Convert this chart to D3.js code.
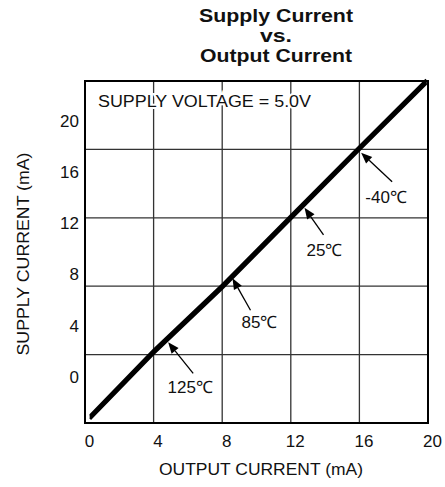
<!DOCTYPE html>
<html>
<head>
<meta charset="utf-8">
<script src="https://cdn.jsdelivr.net/npm/d3@7"></script>
<style>
  body { margin: 0; background: #fff; }
  text { font-family: "Liberation Sans", Arial, sans-serif; fill: #111; }
</style>
</head>
<body>
<div id="chart"></div>
<script>
// output current (mA) sampled along the curves
const outputCurrent = [0.3, 4, 8, 12, 16, 19.9];
// supply current (mA) for each temperature
const supply125 = [-3.3, 1.8, 6.9, 12.3, 17.7, 22.9];
const supply85 = [-3.2, 1.9, 7.0, 12.4, 17.8, 23.0];
const supply25 = [-3.1, 2.0, 7.1, 12.5, 17.9, 23.1];
const supplyMinus40 = [-3.0, 2.1, 7.2, 12.6, 18.0, 23.2];
const temps = ['125℃', '85℃', '25℃', '-40℃'];

const xTicks = [0, 4, 8, 12, 16, 20];
const yTicks = [0, 4, 8, 12, 16, 20];

// where each temperature's arrow touches the curve (output, supply)
const arrowX = [4.85, 8.6, 12.8, 16.1];
const arrowY = [2.7, 7.7, 13.2, 17.5];

const width = 445;
const height = 487;
const margin = {top: 81, right: 17, bottom: 64, left: 85};

const svg = d3.select('#chart')
  .append('svg')
  .attr('width', width)
  .attr('height', height);

const x = d3.scaleLinear()
  .domain([0, 20])
  .range([margin.left, width - margin.right]);

const y = d3.scaleLinear()
  .domain([-3.6, 23.1])
  .range([height - margin.bottom, margin.top]);

// the grid splits the frame into 5 x 5 even cells
const gridX = d3.scaleLinear().domain([0, 5]).range([margin.left, width - margin.right]);
const gridY = d3.scaleLinear().domain([0, 5]).range([height - margin.bottom, margin.top]);

svg.append('g')
  .attr('stroke', '#333')
  .attr('stroke-width', 1.3)
  .call(g => g.selectAll('.vx')
    .data(d3.range(1, 5))
    .join('line')
      .attr('x1', d => gridX(d)).attr('x2', d => gridX(d))
      .attr('y1', margin.top).attr('y2', height - margin.bottom))
  .call(g => g.selectAll('.hy')
    .data(d3.range(1, 5))
    .join('line')
      .attr('y1', d => gridY(d)).attr('y2', d => gridY(d))
      .attr('x1', margin.left).attr('x2', width - margin.right));

// voltage note, with a white halo over the grid
svg.append('text')
  .attr('x', 98)
  .attr('y', 107)
  .attr('font-size', 16)
  .attr('textLength', 213)
  .attr('lengthAdjust', 'spacingAndGlyphs')
  .attr('stroke', '#fff')
  .attr('stroke-width', 4)
  .attr('paint-order', 'stroke')
  .text('SUPPLY VOLTAGE = 5.0V');

// curves
const series = [supply125, supply85, supply25, supplyMinus40];
const line = d3.line()
  .x((d, i) => x(outputCurrent[i]))
  .y(d => y(d));

svg.append('g')
  .selectAll('path')
  .data(series)
  .join('path')
    .attr('fill', 'none')
    .attr('stroke', '#000')
    .attr('stroke-width', 2.5)
    .attr('d', line);

// frame
svg.append('rect')
  .attr('x', margin.left)
  .attr('y', margin.top)
  .attr('width', width - margin.left - margin.right)
  .attr('height', height - margin.top - margin.bottom)
  .attr('fill', 'none')
  .attr('stroke', '#000')
  .attr('stroke-width', 2);

// arrows + temperature labels
const tails = [[25, 31], [18, 32], [19, 27], [31, 29]];
const labelOff = [[-3, 20], [9, 18], [1, 21], [-6, 21]];

const ann = svg.append('g');
temps.forEach((t, i) => {
  const tx = x(arrowX[i]), ty = y(arrowY[i]);
  const bx = tx + tails[i][0], by = ty + tails[i][1];
  const ang = Math.atan2(ty - by, tx - bx);
  const len = 11, half = 4.5;
  const hx = tx - len * Math.cos(ang), hy = ty - len * Math.sin(ang);
  ann.append('line')
    .attr('x1', bx).attr('y1', by)
    .attr('x2', hx).attr('y2', hy)
    .attr('stroke', '#000')
    .attr('stroke-width', 1.3);
  ann.append('path')
    .attr('fill', '#000')
    .attr('d', `M${tx},${ty}L${hx + half * Math.sin(ang)},${hy - half * Math.cos(ang)}L${hx - half * Math.sin(ang)},${hy + half * Math.cos(ang)}Z`);
  ann.append('text')
    .attr('x', bx + labelOff[i][0])
    .attr('y', by + labelOff[i][1])
    .attr('text-anchor', 'middle')
    .attr('font-size', 17)
    .text(t);
});

// x axis labels (no tick marks, just numbers)
const xAxis = d3.axisBottom(x).tickValues(xTicks).tickSize(0).tickPadding(12);
svg.append('g')
  .attr('transform', `translate(4, ${height - margin.bottom})`)
  .call(xAxis)
  .call(g => g.select('.domain').remove())
  .call(g => g.selectAll('text').attr('font-size', 17).attr('font-family', null));

// y axis labels
const yAxis = d3.axisLeft(y).tickValues(yTicks).tickSize(0).tickPadding(6);
svg.append('g')
  .attr('transform', `translate(${margin.left}, 0)`)
  .call(yAxis)
  .call(g => g.select('.domain').remove())
  .call(g => g.selectAll('text').attr('font-size', 17).attr('font-family', null));

// axis titles
svg.append('text')
  .attr('x', 261)
  .attr('y', 475)
  .attr('text-anchor', 'middle')
  .attr('font-size', 16)
  .attr('textLength', 204)
  .attr('lengthAdjust', 'spacingAndGlyphs')
  .text('OUTPUT CURRENT (mA)');

svg.append('text')
  .attr('transform', 'translate(29, 254) rotate(-90)')
  .attr('text-anchor', 'middle')
  .attr('font-size', 16)
  .attr('textLength', 203)
  .attr('lengthAdjust', 'spacingAndGlyphs')
  .text('SUPPLY CURRENT (mA)');

// title
const title = ['Supply Current', 'vs.', 'Output Current'];
const titleW = [154, 32, 152];
svg.append('g')
  .selectAll('text')
  .data(title)
  .join('text')
    .attr('x', 276)
    .attr('y', (d, i) => 22 + i * 20)
    .attr('text-anchor', 'middle')
    .attr('font-size', 17.5)
    .attr('font-weight', 'bold')
    .attr('textLength', (d, i) => titleW[i])
    .attr('lengthAdjust', 'spacingAndGlyphs')
    .text(d => d);
</script>
</body>
</html>
